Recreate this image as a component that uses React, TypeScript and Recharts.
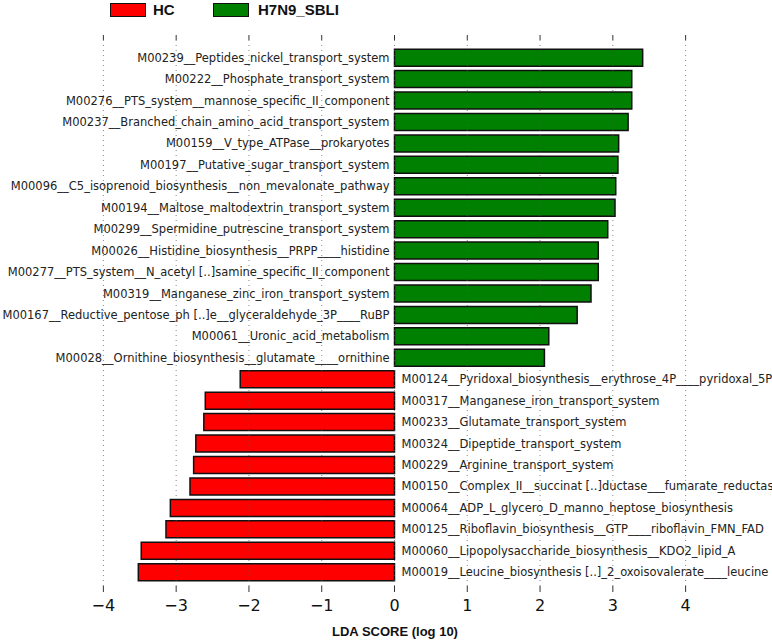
import React from 'react';
import { BarChart, Bar, XAxis, YAxis, Cell, LabelList, ReferenceLine } from 'recharts';

// H7N9_SBLI-enriched modules (green, positive LDA)
const greenNames = [
  'M00239__Peptides_nickel_transport_system',
  'M00222__Phosphate_transport_system',
  'M00276__PTS_system__mannose_specific_II_component',
  'M00237__Branched_chain_amino_acid_transport_system',
  'M00159__V_type_ATPase__prokaryotes',
  'M00197__Putative_sugar_transport_system',
  'M00096__C5_isoprenoid_biosynthesis__non_mevalonate_pathway',
  'M00194__Maltose_maltodextrin_transport_system',
  'M00299__Spermidine_putrescine_transport_system',
  'M00026__Histidine_biosynthesis__PRPP____histidine',
  'M00277__PTS_system__N_acetyl [..]samine_specific_II_component',
  'M00319__Manganese_zinc_iron_transport_system',
  'M00167__Reductive_pentose_ph [..]e__glyceraldehyde_3P____RuBP',
  'M00061__Uronic_acid_metabolism',
  'M00028__Ornithine_biosynthesis__glutamate____ornithine',
];
const greenScores = [3.41, 3.26, 3.26, 3.21, 3.08, 3.07, 3.04, 3.03, 2.93, 2.8, 2.8, 2.7, 2.51, 2.12, 2.06];

// HC-enriched modules (red, negative LDA)
const redNames = [
  'M00124__Pyridoxal_biosynthesis__erythrose_4P____pyridoxal_5P',
  'M00317__Manganese_iron_transport_system',
  'M00233__Glutamate_transport_system',
  'M00324__Dipeptide_transport_system',
  'M00229__Arginine_transport_system',
  'M00150__Complex_II__succinat [..]ductase___fumarate_reductase',
  'M00064__ADP_L_glycero_D_manno_heptose_biosynthesis',
  'M00125__Riboflavin_biosynthesis__GTP____riboflavin_FMN_FAD',
  'M00060__Lipopolysaccharide_biosynthesis__KDO2_lipid_A',
  'M00019__Leucine_biosynthesis [..]_2_oxoisovalerate____leucine',
];
const redScores = [-2.12, -2.6, -2.62, -2.73, -2.76, -2.81, -3.08, -3.14, -3.48, -3.52];

const xTicks = [-4, -3, -2, -1, 0, 1, 2, 3, 4];

const GREEN = '#008000';
const RED = '#ff0000';
const FONT = '"DejaVu Sans", sans-serif';

const rows = [
  ...greenNames.map((name, i) => ({ name, score: greenScores[i] })),
  ...redNames.map((name, i) => ({ name, score: redScores[i] })),
];
const scoreByName: Record<string, number> = {};
rows.forEach((r) => { scoreByName[r.name] = r.score; });

// name label sits next to the zero line, on the side opposite the bar
const renderName = (props: any) => {
  const vb = props.viewBox ?? props;
  const x = Number(vb.x);
  const w = Number(vb.width);
  const y = Number(vb.y);
  const h = Number(vb.height);
  const score = scoreByName[props.value];
  const zeroX = score >= 0 ? Math.min(x, x + w) : Math.max(x, x + w);
  const cy = Math.min(y, y + h) + Math.abs(h) / 2;
  return (
    <text
      x={score >= 0 ? zeroX - 5 : zeroX + 7}
      y={cy}
      dy="0.35em"
      textAnchor={score >= 0 ? 'end' : 'start'}
      fontSize={11.5}
      fontFamily={FONT}
      fill="#222"
    >
      {props.value}
    </text>
  );
};

const fmt = (v: number) => String(v).replace('-', '\u2212');

export default function App() {
  return (
    <div style={{ position: 'absolute', left: 0, top: 0, width: 772, height: 643, overflow: 'hidden', background: '#fff' }}>
      {/* legend */}
      <div style={{ position: 'absolute', left: 110, top: 3, width: 34, height: 12, background: RED, border: '1.5px solid #111' }} />
      <div style={{ position: 'absolute', left: 153, top: 0, fontFamily: '"Liberation Sans", Arial, sans-serif', fontWeight: 'bold', fontSize: 15, color: '#111', lineHeight: '20px' }}>HC</div>
      <div style={{ position: 'absolute', left: 213, top: 3, width: 34, height: 12, background: GREEN, border: '1.5px solid #111' }} />
      <div style={{ position: 'absolute', left: 258, top: 0, fontFamily: '"Liberation Sans", Arial, sans-serif', fontWeight: 'bold', fontSize: 15, color: '#111', lineHeight: '20px' }}>H7N9_SBLI</div>

      <BarChart
        width={772}
        height={643}
        data={rows}
        layout="vertical"
        margin={{ top: 34, right: 50, bottom: 27, left: 67 }}
        barCategoryGap="10%"
      >
        <XAxis
          type="number"
          domain={[-4.5, 4.5]}
          ticks={xTicks}
          allowDataOverflow
          axisLine={false}
          tickLine={{ stroke: '#333' }}
          tickSize={6}
          tickMargin={8}
          height={30}
          tickFormatter={fmt}
          tick={{ fontSize: 16, fill: '#111', fontFamily: FONT }}
        />
        <XAxis
          xAxisId="top"
          orientation="top"
          type="number"
          domain={[-4.5, 4.5]}
          ticks={xTicks}
          allowDataOverflow
          axisLine={false}
          tickLine={{ stroke: '#333' }}
          tickSize={5}
          tickFormatter={() => ''}
          height={6}
        />
        <YAxis type="category" dataKey="name" hide padding={{ top: 7, bottom: 3 }} />
        <Bar dataKey="score" stroke="#111" strokeWidth={1.5} isAnimationActive={false}>
          {rows.map((r) => (
            <Cell key={r.name} fill={r.score >= 0 ? GREEN : RED} />
          ))}
          <LabelList dataKey="name" content={renderName} />
        </Bar>
        {xTicks.map((t) => (
          <ReferenceLine key={t} x={t} stroke="#555" strokeOpacity={0.7} strokeDasharray="1 4" />
        ))}
      </BarChart>

      <div style={{ position: 'absolute', left: 0, width: 790, top: 624, textAlign: 'center', fontFamily: '"Liberation Sans", Arial, sans-serif', fontWeight: 'bold', fontSize: 13, color: '#111' }}>
        LDA SCORE (log 10)
      </div>
    </div>
  );
}
